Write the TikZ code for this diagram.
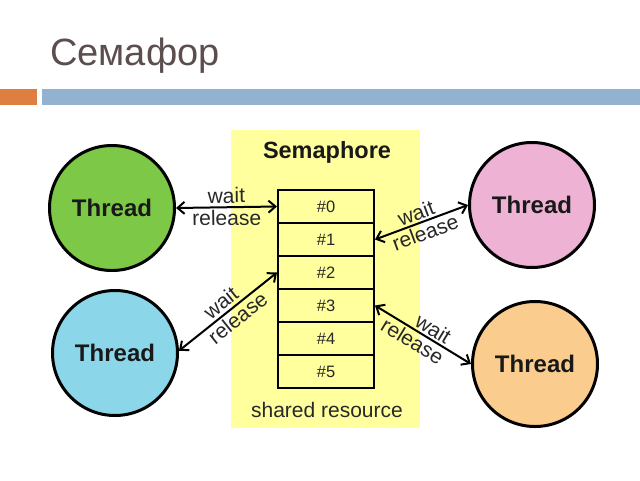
\documentclass[tikz,border=0pt]{standalone}
\usepackage{fontspec}
\setmainfont{Liberation Sans}
\usetikzlibrary{arrows.meta}
\definecolor{titlecol}{RGB}{92,78,78}
\definecolor{barorange}{RGB}{222,126,64}
\definecolor{barblue}{RGB}{146,178,208}
\definecolor{semyellow}{RGB}{255,255,158}
\definecolor{thgreen}{RGB}{126,200,72}
\definecolor{thblue}{RGB}{140,214,234}
\definecolor{thpink}{RGB}{238,178,212}
\definecolor{thorange}{RGB}{250,204,142}
\definecolor{txtgray}{RGB}{40,40,40}
\tikzset{
  thread/.style={circle, draw=black, line width=3pt, minimum size=125pt, inner sep=0pt,
    font=\fontsize{24}{27}\selectfont\bfseries, text=black!90},
  cell/.style={rectangle, draw=black, line width=2pt, minimum width=96pt, minimum height=33pt,
    inner sep=0pt, font=\fontsize{16.5}{18}\selectfont, text=txtgray},
  conn/.style={line width=2pt, {Straight Barb[length=7pt,width=12pt,line width=2pt]}-{Straight Barb[length=7pt,width=12pt,line width=2pt]}},
  lbl/.style={font=\fontsize{21}{22}\selectfont, text=txtgray, inner sep=1pt, sloped}
}
\begin{document}
\begin{tikzpicture}[x=1pt,y=-1pt]
\useasboundingbox (0,0) rectangle (640,480);
\fill[white] (0,0) rectangle (640,480);
% title
\node[anchor=base west, inner sep=0pt, text=titlecol, font=\fontsize{38}{44}\selectfont] (title) at (50,65) {Семафор};
\fill[barorange] (0,89) rectangle (37,105);
\fill[barblue] (41.5,89) rectangle (640,105);
% semaphore area
\fill[semyellow] (231,130) rectangle (420,428);
\node[font=\fontsize{23.5}{26}\selectfont\bfseries, text=black!90] (sem) at (327,152) {Semaphore};
\node[font=\fontsize{21}{24}\selectfont, text=txtgray] (shared) at (327,410) {shared resource};
\foreach \i in {0,...,5} {
  \node[cell] (c\i) at (326,{206.5+33*\i}) {\#\i};
}
% threads
\node[thread, fill=thgreen] (g) at (112,208) {Thread};
\node[thread, fill=thblue] (b) at (115,353) {Thread};
\node[thread, fill=thpink] (p) at (532,205) {Thread};
\node[thread, fill=thorange] (o) at (535,364) {Thread};
% connectors
\draw[conn] (g.east) -- (c0.west)
  node[lbl, midway, above=2pt] {wait}
  node[lbl, midway, below=1pt] {release};
\draw[conn] (b.2) -- (c2.west)
  node[lbl, pos=0.5, above=2pt] {wait}
  node[lbl, pos=0.53, below=1pt] {release};
\draw[conn] (c1.east) -- (p.west)
  node[lbl, pos=0.48, above=1pt] {wait}
  node[lbl, pos=0.5, below=1pt] {release};
\draw[conn] (c3.east) -- (o.west)
  node[lbl, pos=0.55, above=1pt] {wait}
  node[lbl, pos=0.45, below=1pt] {release};
\end{tikzpicture}
\end{document}
